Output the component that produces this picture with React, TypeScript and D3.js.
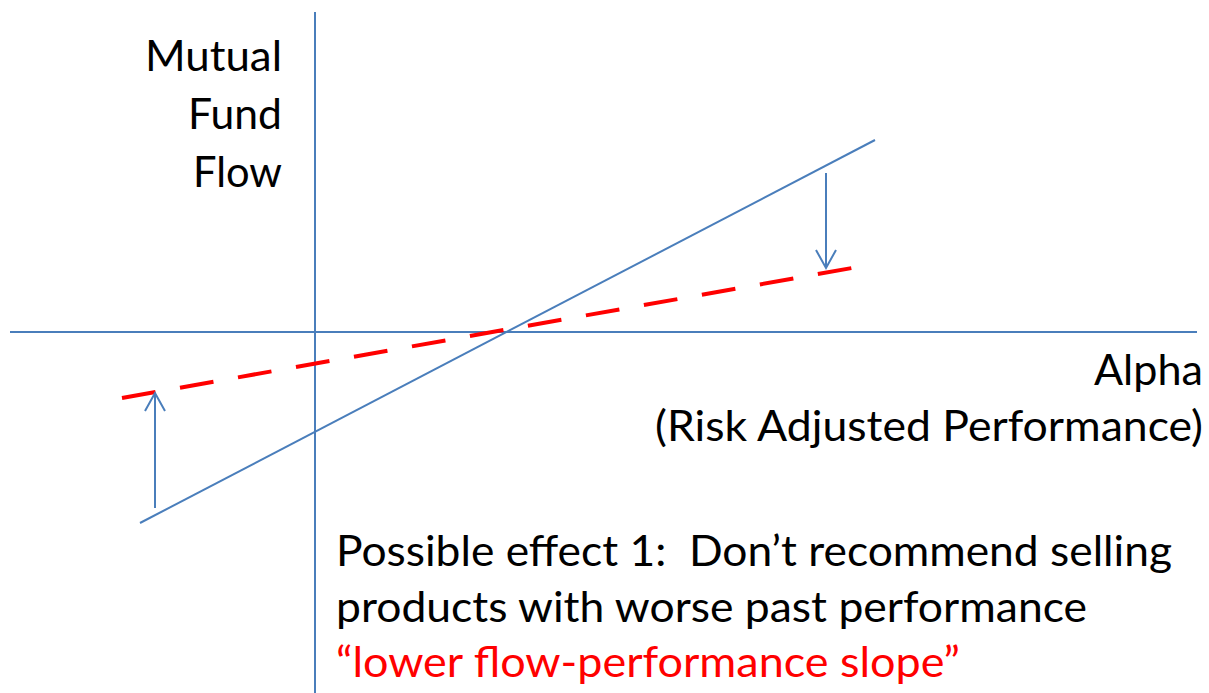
import React from "react";
import * as d3 from "d3";

// Conceptual coordinates: alpha (x) and fund flow (y), origin at axes crossing
const xDomain: [number, number] = [-3.05, 8.94];
const yDomain: [number, number] = [-3.61, 3.32];

const baseLine = [
  { alpha: -1.75, flow: -1.91 },
  { alpha: 5.6, flow: 1.92 },
];
const lowerSlopeLine = [
  { alpha: -1.93, flow: -0.66 },
  { alpha: 5.37, flow: 0.64 },
];
const arrows = [
  { alpha: -1.6, from: -1.76, to: -0.61 },
  { alpha: 5.11, from: 1.59, to: 0.64 },
];
const yLabelLines = ["Mutual", "Fund", "Flow"];
const xLabelLines = ["Alpha", "(Risk Adjusted Performance)"];
const noteLines = [
  { text: "Possible effect 1:  Don\u2019t recommend selling", color: "#000000" },
  { text: "products with worse past performance", color: "#000000" },
  { text: "\u201clower flow-performance slope\u201d", color: "#FF0000" },
];

const W = 1209;
const H = 693;
const BLUE = "#4a7ebb";
const FONT = "Lato, 'Open Sans', sans-serif";

export default function App() {
  const x = d3.scaleLinear().domain(xDomain).range([10, 1209]);
  const y = d3.scaleLinear().domain(yDomain).range([693, 0]);
  const line = d3
    .line<{ alpha: number; flow: number }>()
    .x((d) => x(d.alpha))
    .y((d) => y(d.flow));

  const yLabelWidths = [137, 94, 89];
  const xLabelWidths = [109, 548];
  const noteWidths = [836, 751, 624];

  return (
    <svg
      width={W}
      height={H}
      style={{ position: "absolute", left: 0, top: 0, background: "#fff" }}
    >
      {/* axes */}
      <line x1={x(0)} x2={x(0)} y1={12} y2={H} stroke={BLUE} strokeWidth={2} />
      <line x1={10} x2={1197} y1={y(0)} y2={y(0)} stroke={BLUE} strokeWidth={2} />

      {/* base flow-performance line */}
      <path d={line(baseLine) || ""} stroke={BLUE} strokeWidth={2} fill="none" />

      {/* lower slope dashed line */}
      <path
        d={line(lowerSlopeLine) || ""}
        stroke="#FF0000"
        strokeWidth={4}
        strokeDasharray="34 24.9"
        fill="none"
      />

      {/* arrows */}
      {arrows.map((a, i) => {
        const ax = x(a.alpha);
        const y1 = y(a.from);
        const y2 = y(a.to);
        const dir = y2 < y1 ? 1 : -1; // 1 means pointing up
        const hl = 18;
        const hw = 10;
        return (
          <g key={i} stroke={BLUE} strokeWidth={2} fill="none">
            <line x1={ax} x2={ax} y1={y1} y2={y2} />
            <polyline
              points={`${ax - hw},${y2 + dir * hl} ${ax},${y2} ${ax + hw},${y2 + dir * hl}`}
            />
          </g>
        );
      })}

      {/* y label */}
      {yLabelLines.map((t, i) => (
        <text
          key={t}
          x={282 - yLabelWidths[i]}
          y={71 + i * 58}
          fontFamily={FONT}
          fontSize={43}
          fill="#000"
          textLength={yLabelWidths[i]}
          lengthAdjust="spacingAndGlyphs"
        >
          {t}
        </text>
      ))}

      {/* x label */}
      {xLabelLines.map((t, i) => (
        <text
          key={t}
          x={1203 - xLabelWidths[i]}
          y={385 + i * 56}
          fontFamily={FONT}
          fontSize={43}
          fill="#000"
          textLength={xLabelWidths[i]}
          lengthAdjust="spacingAndGlyphs"
        >
          {t}
        </text>
      ))}

      {/* note */}
      {noteLines.map((l, i) => (
        <text
          key={i}
          x={336}
          y={566 + i * 55.5}
          fontFamily={FONT}
          fontSize={43}
          fill={l.color}
          textLength={noteWidths[i]}
          lengthAdjust="spacingAndGlyphs"
          style={{ whiteSpace: "pre" }}
        >
          {l.text}
        </text>
      ))}
    </svg>
  );
}
